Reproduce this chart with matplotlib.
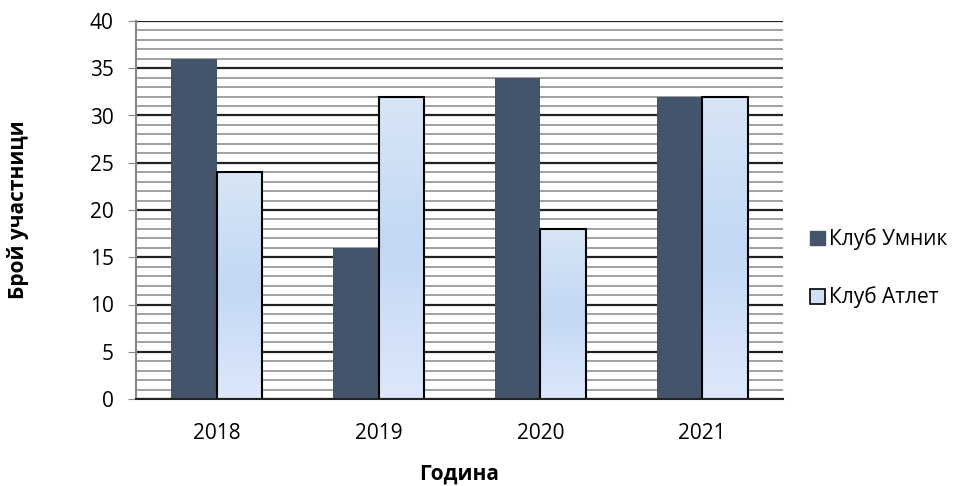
import numpy as np
import matplotlib
matplotlib.use("Agg")
import matplotlib.pyplot as plt
from matplotlib.colors import LinearSegmentedColormap
from matplotlib.ticker import MultipleLocator
from matplotlib.patches import Patch

years = ["2018", "2019", "2020", "2021"]
umnik = [36, 16, 34, 32]
atlet = [24, 32, 18, 32]
series_names = ["Клуб Умник", "Клуб Атлет"]

plt.rcParams['font.family'] = ['Open Sans', 'DejaVu Sans']

dark = "#44546a"
grad = LinearSegmentedColormap.from_list(
    "bar", ["#dde8fa", "#c3d8f5", "#d8e6f5"])

W, H = 968, 486
fig = plt.figure(figsize=(W / 100, H / 100), dpi=100)
ax = fig.add_axes([136 / W, 1 - 399 / H, (783 - 136) / W, (399 - 21) / H])

x = np.arange(len(years))
w = 0.281

ax.bar(x - w / 2, umnik, w, color=dark, zorder=3)
b2 = ax.bar(x + w / 2, atlet, w, color="none", edgecolor="black",
            linewidth=1.5, zorder=4)

# vertical gradient inside each light bar
g = np.linspace(0, 1, 256).reshape(-1, 1)
for r in b2:
    x0, y0 = r.get_x(), r.get_y()
    im = ax.imshow(g, cmap=grad, aspect="auto", origin="lower",
                   extent=[x0, x0 + r.get_width(), y0, y0 + r.get_height()],
                   zorder=3.5)
    im.set_clip_path(r)

ax.set_xlim(-0.5, len(years) - 0.5)
ax.set_ylim(0, 40)
ax.yaxis.set_major_locator(MultipleLocator(5))
ax.yaxis.set_minor_locator(MultipleLocator(1))
ax.grid(which="minor", axis="y", color="#999999", linewidth=1.3, zorder=1)
ax.grid(which="major", axis="y", color="#222222", linewidth=1.6, zorder=2)
ax.set_xticks(x)
ax.set_xticklabels(years)

ax.tick_params(axis="y", which="major", length=6, color="#888888",
               labelsize=15, pad=10)
ax.tick_params(axis="y", which="minor", length=0)
ax.tick_params(axis="x", length=0, labelsize=15, pad=17)

for s in ["top", "right"]:
    ax.spines[s].set_visible(False)
ax.spines["left"].set_color("#888888")
ax.spines["left"].set_linewidth(1.5)
ax.spines["bottom"].set_color("#222222")
ax.spines["bottom"].set_linewidth(1.5)
ax.spines["bottom"].set_zorder(5)

fig.text(18 / W, 1 - 210 / H, "Брой участници", rotation=90, fontsize=15,
         fontweight="bold", ha="center", va="center")
fig.text(459 / W, 1 - 474 / H, "Година", fontsize=15,
         fontweight="bold", ha="center", va="center")

handles = [Patch(facecolor=dark, edgecolor=dark),
           Patch(facecolor="#d0e0f5", edgecolor="black", linewidth=1.2)]
fig.legend(handles, series_names, loc="center left",
           bbox_to_anchor=(810 / W, 1 - 268.5 / H), frameon=False, fontsize=15,
           handlelength=0.7, handleheight=0.7, handletextpad=0.2,
           labelspacing=1.74, borderpad=0, borderaxespad=0)

fig.savefig("out.png", dpi=100)
